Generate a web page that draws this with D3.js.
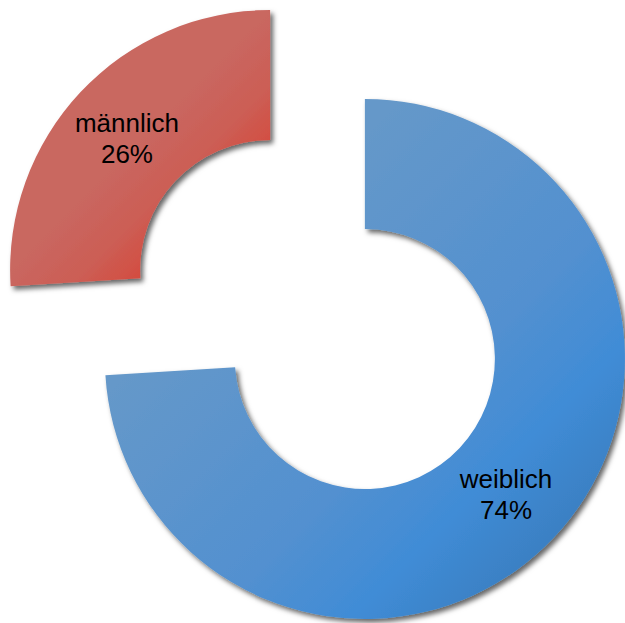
<!DOCTYPE html>
<html>
<head>
<meta charset="utf-8">
<script src="https://cdn.jsdelivr.net/npm/d3@7"></script>
<style>
  html, body { margin: 0; padding: 0; background: #fff; }
  svg { display: block; }
</style>
</head>
<body>
<svg id="chart" width="625" height="623"></svg>
<script>
const categories = ["weiblich", "männlich"];
const values = [74, 26];
const percentLabels = ["74%", "26%"];

const cx = 317.5, cy = 314.5;
const outerR = 260, innerR = 130, explode = 65;

const svg = d3.select("#chart");
const defs = svg.append("defs");

const f = defs.append("filter").attr("id", "shadow")
  .attr("x", "-10%").attr("y", "-10%").attr("width", "130%").attr("height", "130%");
f.append("feDropShadow").attr("dx", 3).attr("dy", 3.5).attr("stdDeviation", 2.5)
  .attr("flood-color", "#000").attr("flood-opacity", 0.6);

// gradient specs in page coordinates
const gradSpecs = [
  { id: "g0", x1: 250, y1: 250, x2: 550, y2: 550,
    stops: [[0, "#6598c9"], [0.55, "#5290d0"], [0.78, "#408cd6"], [1, "#3a7fc2"]] },
  { id: "g1", x1: 140, y1: 140, x2: 215, y2: 215,
    stops: [[0, "#c96760"], [0.5, "#cc5e55"], [1, "#d5493c"]] }
];

const pie = d3.pie().sort(null).value(d => d);
const arcs = pie(values);
const arc = d3.arc().innerRadius(innerR).outerRadius(outerR);

const slices = arcs.map(a => {
  const mid = (a.startAngle + a.endAngle) / 2;
  return { a, ox: cx + explode * Math.sin(mid), oy: cy - explode * Math.cos(mid) };
});

slices.forEach((s, i) => {
  const gs = gradSpecs[i];
  const lg = defs.append("linearGradient").attr("id", gs.id)
    .attr("gradientUnits", "userSpaceOnUse")
    .attr("x1", gs.x1 - s.ox).attr("y1", gs.y1 - s.oy)
    .attr("x2", gs.x2 - s.ox).attr("y2", gs.y2 - s.oy);
  gs.stops.forEach(st => lg.append("stop").attr("offset", st[0]).attr("stop-color", st[1]));
});

const g = svg.append("g");
slices.forEach((s, i) => {
  g.append("path")
    .attr("d", arc(s.a))
    .attr("transform", `translate(${s.ox},${s.oy})`)
    .attr("fill", `url(#${gradSpecs[i].id})`)
    .attr("filter", "url(#shadow)");
});

const labels = svg.append("g")
  .attr("font-family", "'Liberation Sans', Arial, sans-serif")
  .attr("font-size", 26)
  .attr("fill", "#000")
  .attr("text-anchor", "middle");

slices.forEach((s, i) => {
  const c = arc.centroid(s.a);
  const x = s.ox + c[0] - 1;
  const t = labels.append("text").attr("x", x).attr("y", s.oy + c[1] - 4.5);
  t.append("tspan").attr("x", x).attr("dy", 0).text(categories[i]);
  t.append("tspan").attr("x", x).attr("dy", 31).text(percentLabels[i]);
});
</script>
</body>
</html>
